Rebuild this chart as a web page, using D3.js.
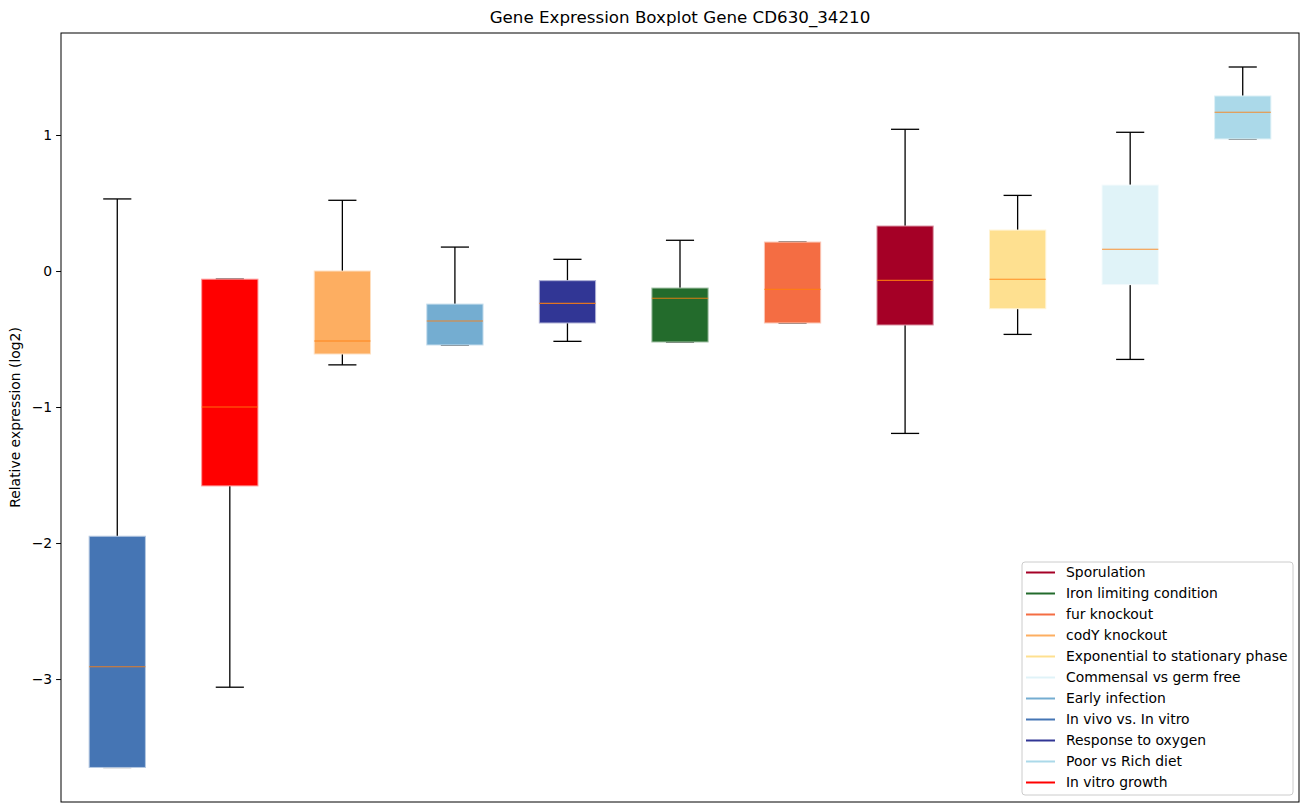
<!DOCTYPE html>
<html>
<head>
<meta charset="utf-8">
<script src="https://cdn.jsdelivr.net/npm/d3@7"></script>
<style>
  body { margin: 0; background: #fff; }
  svg { font-family: "DejaVu Sans", sans-serif; }
</style>
</head>
<body>
<svg width="1309" height="812"></svg>
<script>
var width = 1309;
var height = 812;
var margin = {top: 33, right: 10, bottom: 10, left: 61};

// boxes, left to right
var categories = ["In vivo vs. In vitro", "In vitro growth", "codY knockout", "Early infection",
                  "Response to oxygen", "Iron limiting condition", "fur knockout", "Sporulation",
                  "Exponential to stationary phase", "Commensal vs germ free", "Poor vs Rich diet"];
var colors = ["#4575b4", "#ff0000", "#fdae61", "#74add1", "#313695", "#236b2c",
              "#f46d43", "#a50026", "#fee090", "#e0f3f8", "#abd9e9"];
var whiskerLow  = [-3.65, -3.06, -0.69, -0.544, -0.517, -0.522, -0.382, -1.194, -0.466, -0.65, 0.971];
var q1          = [-3.65, -1.58, -0.61, -0.544, -0.382, -0.522, -0.382, -0.397, -0.277, -0.10, 0.971];
var medians     = [-2.91, -1.00, -0.515, -0.368, -0.238, -0.20, -0.135, -0.069, -0.061, 0.16, 1.167];
var q3          = [-1.95, -0.06, 0.00, -0.243, -0.071, -0.125, 0.213, 0.331, 0.301, 0.632, 1.287];
var whiskerHigh = [0.53, -0.06, 0.52, 0.176, 0.086, 0.226, 0.213, 1.042, 0.556, 1.02, 1.50];

var legendOrder = ["Sporulation", "Iron limiting condition", "fur knockout", "codY knockout",
                   "Exponential to stationary phase", "Commensal vs germ free", "Early infection",
                   "In vivo vs. In vitro", "Response to oxygen", "Poor vs Rich diet", "In vitro growth"];
var yTicks = [-3, -2, -1, 0, 1];

var svg = d3.select("svg");

var x = d3.scaleLinear()
          .domain([0.5, categories.length + 0.5])
          .range([margin.left, width - margin.right]);
var y = d3.scaleLinear()
          .domain([-3.904, 1.75])
          .range([height - margin.bottom, margin.top]);

var boxW = x(1.25) - x(1);   // half of 0.5 width
var capW = boxW / 2;

var data = categories.map(function(c, i) {
    return {name: c, color: colors[i], lo: whiskerLow[i], q1: q1[i], med: medians[i],
            q3: q3[i], hi: whiskerHigh[i], pos: i + 1};
});

var g = svg.append("g");

// whiskers
data.forEach(function(d) {
    var cx = x(d.pos);
    g.append("line").attr("x1", cx).attr("x2", cx).attr("y1", y(d.q1)).attr("y2", y(d.lo))
     .attr("stroke", "#000").attr("stroke-width", 1.3);
    g.append("line").attr("x1", cx).attr("x2", cx).attr("y1", y(d.q3)).attr("y2", y(d.hi))
     .attr("stroke", "#000").attr("stroke-width", 1.3);
    [d.lo, d.hi].forEach(function(v) {
        g.append("line").attr("x1", cx - capW).attr("x2", cx + capW)
         .attr("y1", y(v)).attr("y2", y(v))
         .attr("stroke", "#000").attr("stroke-width", 1.3);
    });
});

// boxes
g.selectAll("rect.box")
  .data(data)
  .enter().append("rect")
  .attr("class", "box")
  .attr("x", d => x(d.pos) - boxW)
  .attr("width", boxW * 2)
  .attr("y", d => y(d.q3))
  .attr("height", d => Math.max(y(d.q1) - y(d.q3), 0.5))
  .attr("fill", d => d.color)
  .attr("stroke", d => d3.interpolateRgb(d.color, "#fff")(0.6))
  .attr("stroke-width", 1);

// medians
g.selectAll("line.med")
  .data(data)
  .enter().append("line")
  .attr("class", "med")
  .attr("x1", d => x(d.pos) - boxW)
  .attr("x2", d => x(d.pos) + boxW)
  .attr("y1", d => y(d.med))
  .attr("y2", d => y(d.med))
  .attr("stroke", "#ff7f0e")
  .attr("stroke-opacity", 0.85)
  .attr("stroke-width", 1.1);

// y axis
var yAxis = d3.axisLeft(y)
              .tickValues(yTicks)
              .tickFormat(d => d < 0 ? "\u2212" + Math.abs(d) : d)
              .tickSize(4.9)
              .tickPadding(4);
var ya = svg.append("g")
            .attr("transform", "translate(" + margin.left + ",0)")
            .call(yAxis);
ya.select(".domain").remove();
ya.selectAll("text").attr("font-size", "13.9px").attr("fill", "#000")
  .style("font-family", "DejaVu Sans");
ya.selectAll("line").attr("stroke", "#000").attr("stroke-width", 1);

// frame
svg.append("rect")
   .attr("x", margin.left)
   .attr("y", margin.top)
   .attr("width", width - margin.right - margin.left)
   .attr("height", height - margin.bottom - margin.top)
   .attr("fill", "none")
   .attr("stroke", "#000")
   .attr("stroke-width", 1);

// title
svg.append("text")
   .attr("x", (margin.left + width - margin.right) / 2)
   .attr("y", 23)
   .attr("text-anchor", "middle")
   .attr("font-size", "16.7px")
   .text("Gene Expression Boxplot Gene CD630_34210");

// y label
svg.append("text")
   .attr("transform", "translate(20," + ((margin.top + height - margin.bottom) / 2) + ") rotate(-90)")
   .attr("text-anchor", "middle")
   .attr("font-size", "13.9px")
   .text("Relative expression (log2)");

// legend
var lx = 1022, ly = 562, rowH = 21;
var legend = svg.append("g");
legend.append("rect")
      .attr("x", lx).attr("y", ly)
      .attr("width", 1293 - lx).attr("height", 795 - ly)
      .attr("rx", 3)
      .attr("fill", "#fff").attr("fill-opacity", 0.8)
      .attr("stroke", "#ccc").attr("stroke-width", 1);

var keys = legend.selectAll("g.key")
                 .data(legendOrder)
                 .enter().append("g")
                 .attr("class", "key")
                 .attr("transform", (d, i) => "translate(0," + (ly + 10.5 + i * rowH) + ")");
keys.append("line")
    .attr("x1", lx + 4).attr("x2", lx + 33)
    .attr("stroke", d => colors[categories.indexOf(d)])
    .attr("stroke-width", 2);
keys.append("text")
    .attr("x", lx + 44)
    .attr("dy", "0.35em")
    .attr("font-size", "13.9px")
    .text(d => d);
</script>
</body>
</html>
